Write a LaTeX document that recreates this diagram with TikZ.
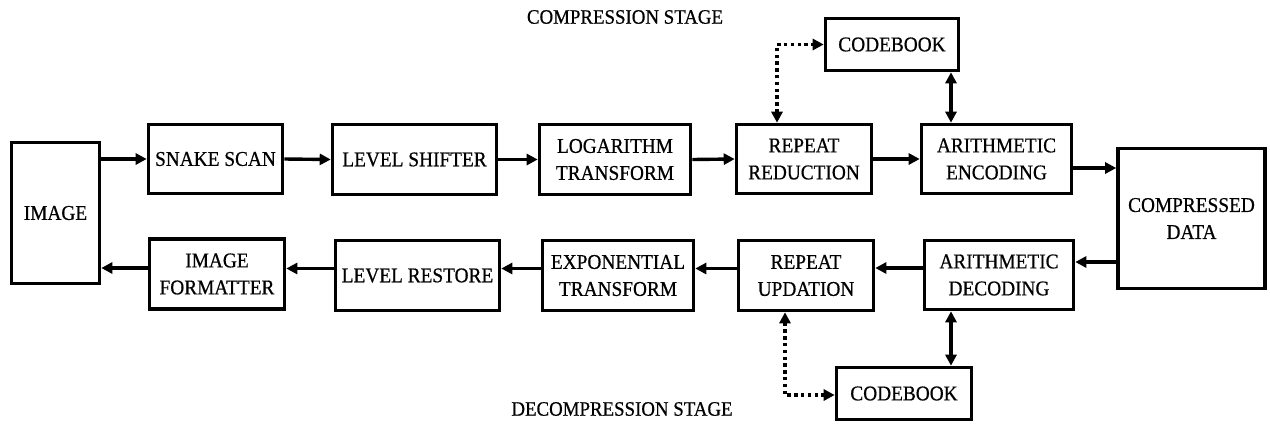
\documentclass[tikz,border=0pt]{standalone}
\usepackage{fontspec}
\setmainfont{Liberation Serif}
\newfontfamily\dfont{Liberation Serif}[FakeBold=0.6,FakeStretch=0.92]
\usetikzlibrary{arrows.meta,calc}
\begin{document}
\begin{tikzpicture}[x=1pt,y=-1pt,
  box/.style={draw=black,line width=3.6pt,align=center,inner sep=0pt,
    font=\dfont\fontsize{21}{27}\selectfont},
  arr/.style={line width=3.4pt,-{Triangle[length=11pt,width=11pt]}},
  dbl/.style={line width=3.4pt,{Triangle[length=11pt,width=11pt]}-{Triangle[length=11pt,width=11pt]}},
  dotarr/.style={line width=3.4pt,dash pattern=on 3.4pt off 3.4pt,{Triangle[length=11pt,width=11pt]}-{Triangle[length=11pt,width=11pt]}},
  lbl/.style={font=\dfont\fontsize{20.5}{24}\selectfont,inner sep=0pt}]
\useasboundingbox (0,0) rectangle (1270,424);
% top row
\node[box,minimum width=88,minimum height=141] (image) at (55.5,213) {IMAGE};
\node[box,minimum width=134,minimum height=69] (snake) at (215.5,159) {SNAKE SCAN};
\node[box,minimum width=164,minimum height=70] (shift) at (414.5,159.5) {LEVEL SHIFTER};
\node[box,minimum width=151,minimum height=70] (log) at (615,159.5) {LOGARITHM\\TRANSFORM};
\node[box,minimum width=135,minimum height=69] (rred) at (804,159) {REPEAT\\REDUCTION};
\node[box,minimum width=150,minimum height=69] (enc) at (996.5,159) {ARITHMETIC\\ENCODING};
\node[box,minimum width=133,minimum height=52] (cbt) at (892,44.5) {CODEBOOK};
\node[box,minimum width=147,minimum height=140] (comp) at (1191.5,218.5) {COMPRESSED\\DATA};
% bottom row
\node[box,minimum width=135,minimum height=70] (fmt) at (217,274) {IMAGE\\FORMATTER};
\node[box,minimum width=164,minimum height=70] (rest) at (417.5,275.5) {LEVEL RESTORE};
\node[box,minimum width=151,minimum height=70] (expo) at (618,275.5) {EXPONENTIAL\\TRANSFORM};
\node[box,minimum width=135,minimum height=70] (rupd) at (806,275.5) {REPEAT\\UPDATION};
\node[box,minimum width=149,minimum height=69] (dec) at (999,275) {ARITHMETIC\\DECODING};
\node[box,minimum width=135,minimum height=52] (cbb) at (904,393.5) {CODEBOOK};
% labels
\node[lbl] (lc) at (625,17) {COMPRESSION STAGE};
\node[lbl] (ld) at (622,409) {DECOMPRESSION STAGE};
% top arrows
\draw[arr] (image.east |- snake.west) -- (snake.west);
\draw[arr] (snake.east) -- (shift.west);
\draw[arr] (shift.east) -- (log.west);
\draw[arr] (log.east) -- (rred.west);
\draw[arr] (rred.east) -- (enc.west);
\draw[arr] ([yshift=-9pt]enc.east) -- ([yshift=-9pt]enc.east -| comp.west);
% bottom arrows
\draw[arr] ([yshift=13pt]comp.west |- dec.east) -- ([yshift=13pt]dec.east);
\draw[arr] ([yshift=7pt]dec.west) -- ([yshift=7pt]dec.west -| rupd.east);
\draw[arr] ([yshift=7pt]rupd.west) -- ([yshift=7pt]rupd.west -| expo.east);
\draw[arr] ([yshift=7pt]expo.west) -- ([yshift=7pt]expo.west -| rest.east);
\draw[arr] ([yshift=7pt]rest.west) -- ([yshift=7pt]rest.west -| fmt.east);
\draw[arr] ([yshift=6pt]fmt.west) -- ([yshift=6pt]fmt.west -| image.east);
% codebook links
\draw[dbl] ([xshift=-45.5pt]enc.north) -- ([xshift=-45.5pt]enc.north |- cbt.south);
\draw[dbl] ([xshift=-48pt]dec.south) -- ([xshift=-48pt]dec.south |- cbb.north);
\draw[dotarr] ([xshift=-27pt]rred.north) |- (cbt.west);
\draw[dotarr] ([xshift=-21pt]rupd.south) |- ([yshift=-1.5pt]cbb.west);
\end{tikzpicture}
\end{document}
